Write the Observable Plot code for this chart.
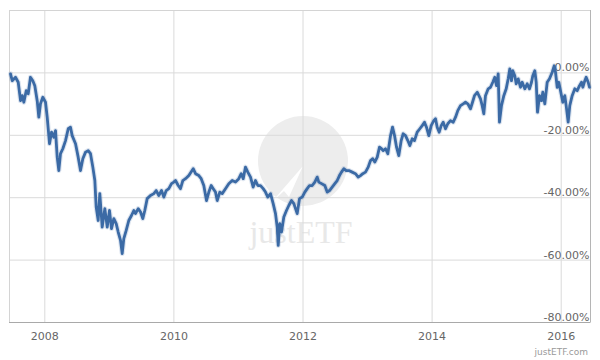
<!DOCTYPE html>
<html><head><meta charset="utf-8">
<script src="https://cdn.jsdelivr.net/npm/d3@7"></script>
<script src="https://cdn.jsdelivr.net/npm/@observablehq/plot@0.6"></script>
<style>
body{margin:0;background:#fff;}
#wrap{position:relative;width:600px;height:360px;font-family:"DejaVu Sans",sans-serif;}
#wm{position:absolute;left:0;top:0;}
#chart{position:absolute;left:0;top:0;}
</style></head>
<body><div id="wrap">
<svg id="wm" width="600" height="360">
  <circle cx="303" cy="161" r="45" fill="#ededed"/>
  <polygon points="270,204 303,166 289,197 284,191" fill="#ffffff"/>
  <text x="301" y="243" text-anchor="middle" font-family="Liberation Serif" font-size="32" fill="#e8e8e8">justETF</text>
  <text x="588" y="355" text-anchor="end" font-family="DejaVu Sans" font-size="9" fill="#9a9a9a">justETF.com</text>
</svg>
<div id="chart"></div>
</div>
<script>
// decimal-year dates and cumulative return in %
const dates = [
 2007.469, 2007.495, 2007.546, 2007.588, 2007.624, 2007.650, 2007.675, 2007.712,
 2007.743, 2007.778, 2007.814, 2007.845, 2007.882, 2007.907, 2007.933, 2007.969,
 2008.011, 2008.037, 2008.073, 2008.104, 2008.139, 2008.166, 2008.192, 2008.217,
 2008.243, 2008.279, 2008.321, 2008.363, 2008.398, 2008.424, 2008.476, 2008.517,
 2008.553, 2008.589, 2008.631, 2008.672, 2008.708, 2008.744, 2008.775, 2008.796,
 2008.827, 2008.852, 2008.889, 2008.930, 2008.967, 2009.002, 2009.033, 2009.069,
 2009.106, 2009.137, 2009.173, 2009.199, 2009.224, 2009.261, 2009.301, 2009.343,
 2009.379, 2009.405, 2009.447, 2009.483, 2009.518, 2009.549, 2009.586, 2009.637,
 2009.689, 2009.726, 2009.766, 2009.808, 2009.844, 2009.881, 2009.921, 2009.963,
 2009.998, 2010.025, 2010.067, 2010.102, 2010.138, 2010.180, 2010.231, 2010.299,
 2010.335, 2010.386, 2010.423, 2010.463, 2010.505, 2010.541, 2010.578, 2010.609,
 2010.644, 2010.671, 2010.711, 2010.748, 2010.799, 2010.850, 2010.903, 2010.954,
 2011.005, 2011.043, 2011.074, 2011.109, 2011.145, 2011.187, 2011.228, 2011.264,
 2011.300, 2011.342, 2011.383, 2011.419, 2011.455, 2011.497, 2011.538, 2011.574,
 2011.600, 2011.616, 2011.640, 2011.667, 2011.703, 2011.744, 2011.780, 2011.822,
 2011.858, 2011.910, 2011.946, 2011.988, 2012.028, 2012.065, 2012.101, 2012.143,
 2012.183, 2012.220, 2012.245, 2012.287, 2012.338, 2012.375, 2012.411, 2012.452,
 2012.493, 2012.530, 2012.565, 2012.596, 2012.632, 2012.669, 2012.710, 2012.762,
 2012.813, 2012.855, 2012.891, 2012.926, 2012.968, 2013.010, 2013.046, 2013.081,
 2013.112, 2013.150, 2013.185, 2013.216, 2013.242, 2013.278, 2013.314, 2013.356,
 2013.387, 2013.418, 2013.449, 2013.484, 2013.521, 2013.552, 2013.588, 2013.624,
 2013.655, 2013.692, 2013.727, 2013.769, 2013.810, 2013.847, 2013.882, 2013.913,
 2013.949, 2013.986, 2014.026, 2014.053, 2014.079, 2014.110, 2014.141, 2014.172,
 2014.208, 2014.243, 2014.285, 2014.327, 2014.363, 2014.398, 2014.440, 2014.482,
 2014.517, 2014.553, 2014.595, 2014.626, 2014.657, 2014.699, 2014.750, 2014.776,
 2014.801, 2014.827, 2014.869, 2014.905, 2014.940, 2014.971, 2014.998, 2015.024,
 2015.044, 2015.075, 2015.111, 2015.148, 2015.179, 2015.204, 2015.230, 2015.250,
 2015.281, 2015.303, 2015.334, 2015.369, 2015.396, 2015.436, 2015.473, 2015.509,
 2015.540, 2015.560, 2015.591, 2015.613, 2015.633, 2015.664, 2015.695, 2015.715,
 2015.746, 2015.783, 2015.819, 2015.861, 2015.892, 2015.912, 2015.938, 2015.963,
 2015.994, 2016.025, 2016.056, 2016.077, 2016.108, 2016.133, 2016.170, 2016.211,
 2016.248, 2016.284, 2016.315, 2016.335, 2016.366, 2016.387, 2016.418, 2016.438
];
const returns = [
 -0.3, -2.5, -1.4, -3.0, -8.9, -7.3, -9.4, -5.7,
 -6.7, -1.4, -2.5, -4.1, -8.9, -14.2, -9.9, -7.8,
 -9.4, -14.2, -22.7, -19.0, -20.6, -18.5, -27.0, -31.3,
 -25.9, -24.3, -21.7, -17.9, -17.4, -20.1, -22.7, -27.0,
 -31.3, -27.5, -25.4, -24.9, -25.9, -30.2, -34.5, -43.0,
 -47.3, -38.7, -49.4, -43.5, -49.4, -44.1, -49.9, -46.7,
 -48.3, -51.0, -53.7, -57.9, -53.1, -50.5, -47.3, -45.7,
 -44.1, -45.1, -43.5, -44.6, -46.7, -44.1, -40.3, -39.3,
 -38.7, -37.7, -39.3, -37.7, -39.8, -37.7, -37.1, -35.5,
 -35.0, -34.5, -36.1, -37.1, -34.5, -33.9, -32.9, -30.7,
 -32.3, -32.9, -33.9, -36.1, -40.9, -38.2, -36.1, -37.1,
 -38.2, -40.9, -38.2, -38.7, -37.1, -35.5, -34.5, -35.0,
 -33.9, -32.3, -33.9, -30.2, -31.8, -33.4, -36.6, -34.5,
 -36.1, -36.1, -37.1, -38.2, -39.8, -38.7, -41.9, -45.1,
 -49.4, -55.3, -48.3, -51.0, -46.2, -44.1, -42.5, -40.9,
 -41.9, -45.1, -40.3, -39.8, -38.2, -37.1, -36.1, -36.1,
 -35.0, -33.4, -35.0, -35.5, -36.1, -38.2, -37.7, -36.6,
 -35.5, -34.5, -32.9, -31.8, -30.7, -31.3, -31.3, -31.8,
 -32.3, -33.4, -32.9, -32.3, -31.8, -30.2, -28.1, -27.5,
 -28.6, -27.0, -23.8, -24.3, -24.9, -24.3, -25.9, -20.1,
 -17.4, -20.1, -23.8, -26.5, -21.7, -19.5, -20.1, -21.7,
 -23.3, -21.1, -21.7, -19.0, -17.9, -16.9, -15.8, -17.4,
 -20.1, -16.9, -15.3, -14.7, -17.4, -19.0, -16.9, -15.8,
 -17.9, -16.3, -15.3, -15.8, -14.2, -12.1, -10.5, -9.9,
 -9.4, -9.9, -11.5, -9.4, -7.3, -6.2, -8.3, -10.5,
 -13.1, -7.3, -5.1, -4.6, -3.0, -1.4, -4.1, -0.3,
 -15.8, -10.5, -7.3, -5.1, -1.9, 1.3, -2.5, 0.7,
 -0.9, -3.5, -1.9, -4.6, -3.0, -5.1, -3.5, -5.1,
 -3.0, -0.9, 0.7, -3.0, -12.6, -7.3, -8.9, -6.2,
 -9.9, -3.0, -1.9, 0.2, 2.3, 0.2, -4.6, -3.0,
 -6.2, -9.4, -7.3, -10.5, -15.8, -10.5, -7.3, -5.1,
 -5.7, -4.1, -3.0, -4.6, -2.5, -1.4, -3.0, -4.6
];
const xTicks = [2008, 2010, 2012, 2014, 2016];
const yTicks = [-80, -60, -40, -20, 0];
const xDomain = [2007.453, 2016.454];
const yDomain = [-80, 20];

const idx = d3.range(dates.length);
const chart = Plot.plot({
  width: 600, height: 360,
  marginLeft: 9, marginRight: 10, marginTop: 10, marginBottom: 38,
  style: {background: "transparent", fontFamily: "DejaVu Sans", fontSize: "11px", color: "#666"},
  x: {domain: xDomain},
  y: {domain: yDomain, axis: null},
  marks: [
    Plot.ruleX(xTicks, {stroke: "#dadada"}),
    Plot.ruleY(yTicks, {stroke: "#dadada"}),
    Plot.frame({stroke: "#d4d4d4"}),
    Plot.ruleY([yDomain[0]], {stroke: "#a9a9a9"}),
    Plot.ruleX([xDomain[1]], {stroke: "#b5b5b5"}),
    Plot.axisX(xTicks, {tickSize: 0, tickPadding: 10, tickFormat: d => String(d), label: null, fill: "#666"}),
    Plot.text(yTicks, {y: d => d, text: d => d.toFixed(2) + "%", frameAnchor: "right", textAnchor: "end", dx: -1, dy: -5, fill: "#666"}),
    Plot.line(idx, {x: i => dates[i], y: i => returns[i], stroke: "#3b6aa5", strokeWidth: 5, strokeOpacity: 0.18, strokeLinejoin: "round"}),
    Plot.line(idx, {x: i => dates[i], y: i => returns[i], stroke: "#3b6aa5", strokeWidth: 2.8, strokeLinejoin: "round"})
  ]
});
document.getElementById("chart").appendChild(chart);
</script>
</body></html>
